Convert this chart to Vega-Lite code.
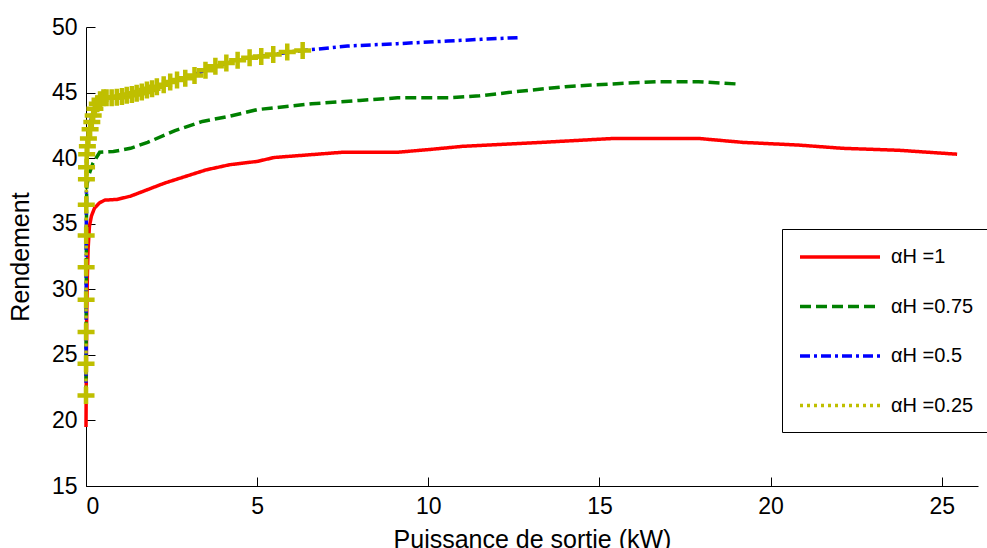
{
  "$schema": "https://vega.github.io/schema/vega-lite/v6.json",
  "width": 892,
  "height": 459,
  "autosize": "none",
  "padding": {"left": 86, "top": 27, "right": 9, "bottom": 62},
  "background": "white",
  "config": {
    "view": {"stroke": null},
    "font": "Liberation Sans",
    "axis": {
      "domainColor": "black", "domainWidth": 1,
      "tickColor": "black", "tickWidth": 1, "tickSize": -9,
      "labelFont": "Liberation Sans", "labelFontSize": 23, "labelColor": "black",
      "titleFont": "Liberation Sans", "titleFontSize": 25, "titleFontWeight": "normal", "titleColor": "black",
      "grid": false
    },
    "legend": {
      "title": null, "orient": "none", "legendX": 696, "legendY": 202,
      "strokeColor": "black", "fillColor": "white", "padding": 16,
      "symbolType": "M-1,0H7", "symbolSize": 400, "symbolStrokeWidth": 3.5,
      "labelFont": "Liberation Sans", "labelFontSize": 20, "labelColor": "black",
      "labelOffset": 69, "rowPadding": 27.5, "labelLimit": 300
    }
  },
  "data": {
    "values": [
      {"s": "αH =1", "x": 0, "y": 19.5},
      {"s": "αH =1", "x": 0.01, "y": 24},
      {"s": "αH =1", "x": 0.02, "y": 28},
      {"s": "αH =1", "x": 0.04, "y": 31},
      {"s": "αH =1", "x": 0.06, "y": 33},
      {"s": "αH =1", "x": 0.1, "y": 34.8},
      {"s": "αH =1", "x": 0.16, "y": 35.6},
      {"s": "αH =1", "x": 0.25, "y": 36.2},
      {"s": "αH =1", "x": 0.4, "y": 36.6},
      {"s": "αH =1", "x": 0.55, "y": 36.8},
      {"s": "αH =1", "x": 0.9, "y": 36.85},
      {"s": "αH =1", "x": 1.3, "y": 37.1},
      {"s": "αH =1", "x": 1.8, "y": 37.6},
      {"s": "αH =1", "x": 2.3, "y": 38.1},
      {"s": "αH =1", "x": 2.9, "y": 38.6},
      {"s": "αH =1", "x": 3.5, "y": 39.1},
      {"s": "αH =1", "x": 4.2, "y": 39.5},
      {"s": "αH =1", "x": 5.0, "y": 39.75},
      {"s": "αH =1", "x": 5.5, "y": 40.05},
      {"s": "αH =1", "x": 7.5, "y": 40.45},
      {"s": "αH =1", "x": 9.1, "y": 40.45},
      {"s": "αH =1", "x": 10.0, "y": 40.65},
      {"s": "αH =1", "x": 11.0, "y": 40.9},
      {"s": "αH =1", "x": 13.3, "y": 41.2},
      {"s": "αH =1", "x": 15.4, "y": 41.5},
      {"s": "αH =1", "x": 17.9, "y": 41.5},
      {"s": "αH =1", "x": 19.2, "y": 41.2},
      {"s": "αH =1", "x": 20.8, "y": 41.0},
      {"s": "αH =1", "x": 22.1, "y": 40.75},
      {"s": "αH =1", "x": 23.75, "y": 40.6},
      {"s": "αH =1", "x": 25.45, "y": 40.3},

      {"s": "αH =0.75", "x": 0, "y": 21.8},
      {"s": "αH =0.75", "x": 0.005, "y": 28},
      {"s": "αH =0.75", "x": 0.01, "y": 33},
      {"s": "αH =0.75", "x": 0.015, "y": 36},
      {"s": "αH =0.75", "x": 0.02, "y": 37.8},
      {"s": "αH =0.75", "x": 0.08, "y": 38.7},
      {"s": "αH =0.75", "x": 0.2, "y": 39.6},
      {"s": "αH =0.75", "x": 0.4, "y": 40.45},
      {"s": "αH =0.75", "x": 0.8, "y": 40.5},
      {"s": "αH =0.75", "x": 1.3, "y": 40.75},
      {"s": "αH =0.75", "x": 1.8, "y": 41.2},
      {"s": "αH =0.75", "x": 2.6, "y": 42.1},
      {"s": "αH =0.75", "x": 3.4, "y": 42.8},
      {"s": "αH =0.75", "x": 4.2, "y": 43.2},
      {"s": "αH =0.75", "x": 5.0, "y": 43.7},
      {"s": "αH =0.75", "x": 6.6, "y": 44.15},
      {"s": "αH =0.75", "x": 8.0, "y": 44.4},
      {"s": "αH =0.75", "x": 9.1, "y": 44.6},
      {"s": "αH =0.75", "x": 10.6, "y": 44.6},
      {"s": "αH =0.75", "x": 11.5, "y": 44.75},
      {"s": "αH =0.75", "x": 12.5, "y": 45.05},
      {"s": "αH =0.75", "x": 14.0, "y": 45.45},
      {"s": "αH =0.75", "x": 15.5, "y": 45.68},
      {"s": "αH =0.75", "x": 16.7, "y": 45.83},
      {"s": "αH =0.75", "x": 17.9, "y": 45.83},
      {"s": "αH =0.75", "x": 19.06, "y": 45.65},

      {"s": "αH =0.5", "x": 0, "y": 21.8},
      {"s": "αH =0.5", "x": 0.005, "y": 30},
      {"s": "αH =0.5", "x": 0.01, "y": 36},
      {"s": "αH =0.5", "x": 0.015, "y": 39},
      {"s": "αH =0.5", "x": 0.03, "y": 40.5},
      {"s": "αH =0.5", "x": 0.07, "y": 41.5},
      {"s": "αH =0.5", "x": 0.13, "y": 42.75},
      {"s": "αH =0.5", "x": 0.22, "y": 43.77},
      {"s": "αH =0.5", "x": 0.4, "y": 44.4},
      {"s": "αH =0.5", "x": 0.75, "y": 44.6},
      {"s": "αH =0.5", "x": 1.19, "y": 44.8},
      {"s": "αH =0.5", "x": 1.78, "y": 45.2},
      {"s": "αH =0.5", "x": 2.27, "y": 45.6},
      {"s": "αH =0.5", "x": 2.9, "y": 46.1},
      {"s": "αH =0.5", "x": 3.49, "y": 46.7},
      {"s": "αH =0.5", "x": 4.1, "y": 47.25},
      {"s": "αH =0.5", "x": 4.78, "y": 47.66},
      {"s": "αH =0.5", "x": 5.47, "y": 47.9},
      {"s": "αH =0.5", "x": 6.0, "y": 48.1},
      {"s": "αH =0.5", "x": 6.57, "y": 48.27},
      {"s": "αH =0.5", "x": 7.64, "y": 48.55},
      {"s": "αH =0.5", "x": 9.1, "y": 48.73},
      {"s": "αH =0.5", "x": 10.57, "y": 48.93},
      {"s": "αH =0.5", "x": 11.55, "y": 49.06},
      {"s": "αH =0.5", "x": 12.62, "y": 49.19},

      {"s": "αH =0.25", "x": 0, "y": 21.9},
      {"s": "αH =0.25", "x": 0.001, "y": 24.33},
      {"s": "αH =0.25", "x": 0.002, "y": 26.74},
      {"s": "αH =0.25", "x": 0.003, "y": 29.2},
      {"s": "αH =0.25", "x": 0.004, "y": 31.68},
      {"s": "αH =0.25", "x": 0.005, "y": 34.1},
      {"s": "αH =0.25", "x": 0.008, "y": 36.45},
      {"s": "αH =0.25", "x": 0.012, "y": 38.4},
      {"s": "αH =0.25", "x": 0.016, "y": 39.3},
      {"s": "αH =0.25", "x": 0.02, "y": 40.3},
      {"s": "αH =0.25", "x": 0.04, "y": 40.9},
      {"s": "αH =0.25", "x": 0.07, "y": 41.5},
      {"s": "αH =0.25", "x": 0.12, "y": 42.2},
      {"s": "αH =0.25", "x": 0.17, "y": 42.75},
      {"s": "αH =0.25", "x": 0.21, "y": 43.26},
      {"s": "αH =0.25", "x": 0.26, "y": 43.77},
      {"s": "αH =0.25", "x": 0.33, "y": 44.15},
      {"s": "αH =0.25", "x": 0.41, "y": 44.45},
      {"s": "αH =0.25", "x": 0.51, "y": 44.6},
      {"s": "αH =0.25", "x": 0.6, "y": 44.6},
      {"s": "αH =0.25", "x": 0.75, "y": 44.6},
      {"s": "αH =0.25", "x": 0.9, "y": 44.65},
      {"s": "αH =0.25", "x": 1.05, "y": 44.7},
      {"s": "αH =0.25", "x": 1.19, "y": 44.8},
      {"s": "αH =0.25", "x": 1.34, "y": 44.85},
      {"s": "αH =0.25", "x": 1.48, "y": 44.95},
      {"s": "αH =0.25", "x": 1.63, "y": 45.05},
      {"s": "αH =0.25", "x": 1.78, "y": 45.2},
      {"s": "αH =0.25", "x": 1.93, "y": 45.3},
      {"s": "αH =0.25", "x": 2.07, "y": 45.45},
      {"s": "αH =0.25", "x": 2.27, "y": 45.6},
      {"s": "αH =0.25", "x": 2.46, "y": 45.8},
      {"s": "αH =0.25", "x": 2.66, "y": 45.95},
      {"s": "αH =0.25", "x": 2.9, "y": 46.1},
      {"s": "αH =0.25", "x": 3.17, "y": 46.31},
      {"s": "αH =0.25", "x": 3.49, "y": 46.7},
      {"s": "αH =0.25", "x": 3.78, "y": 47.0},
      {"s": "αH =0.25", "x": 4.1, "y": 47.25},
      {"s": "αH =0.25", "x": 4.43, "y": 47.46},
      {"s": "αH =0.25", "x": 4.78, "y": 47.66},
      {"s": "αH =0.25", "x": 5.12, "y": 47.76},
      {"s": "αH =0.25", "x": 5.47, "y": 47.9},
      {"s": "αH =0.25", "x": 5.88, "y": 48.1},
      {"s": "αH =0.25", "x": 6.33, "y": 48.2}
    ]
  },
  "encoding": {
    "x": {
      "field": "x", "type": "quantitative",
      "scale": {"domain": [0, 26.06], "nice": false, "zero": false},
      "axis": {"values": [0, 5, 10, 15, 20, 25], "title": "Puissance de sortie (kW)", "labelPadding": 18, "titleBaseline": "alphabetic", "titleY": 61.5, "titlePadding": 0}
    },
    "y": {
      "field": "y", "type": "quantitative",
      "scale": {"domain": [15, 50], "nice": false, "zero": false},
      "axis": {"values": [15, 20, 25, 30, 35, 40, 45, 50], "title": "Rendement", "labelPadding": 18, "titleX": -66, "titleY": 229.5, "titleBaseline": "middle", "titleAlign": "center"}
    }
  },
  "layer": [
    {
      "mark": {"type": "line", "strokeWidth": 3.5, "interpolate": "linear", "strokeCap": "butt"},
      "encoding": {
        "color": {
          "field": "s", "type": "nominal",
          "scale": {"domain": ["αH =1", "αH =0.75", "αH =0.5", "αH =0.25"], "range": ["#ff0000", "#008000", "#0000ff", "#bfbf00"]},
          "legend": {"title": null}
        },
        "strokeDash": {
          "field": "s", "type": "nominal",
          "scale": {"domain": ["αH =1", "αH =0.75", "αH =0.5", "αH =0.25"], "range": [[1, 0], [11, 5], [10, 4, 3, 4], [3, 4]]},
          "legend": {"title": null}
        }
      }
    },
    {
      "transform": [{"filter": "datum.s === 'αH =0.25'"}],
      "mark": {"type": "point", "shape": "M-1,0H1M0,-1V1", "filled": false, "stroke": "#bfbf00", "strokeWidth": 4.5, "size": 289, "opacity": 1},
      "encoding": {}
    }
  ]
}
